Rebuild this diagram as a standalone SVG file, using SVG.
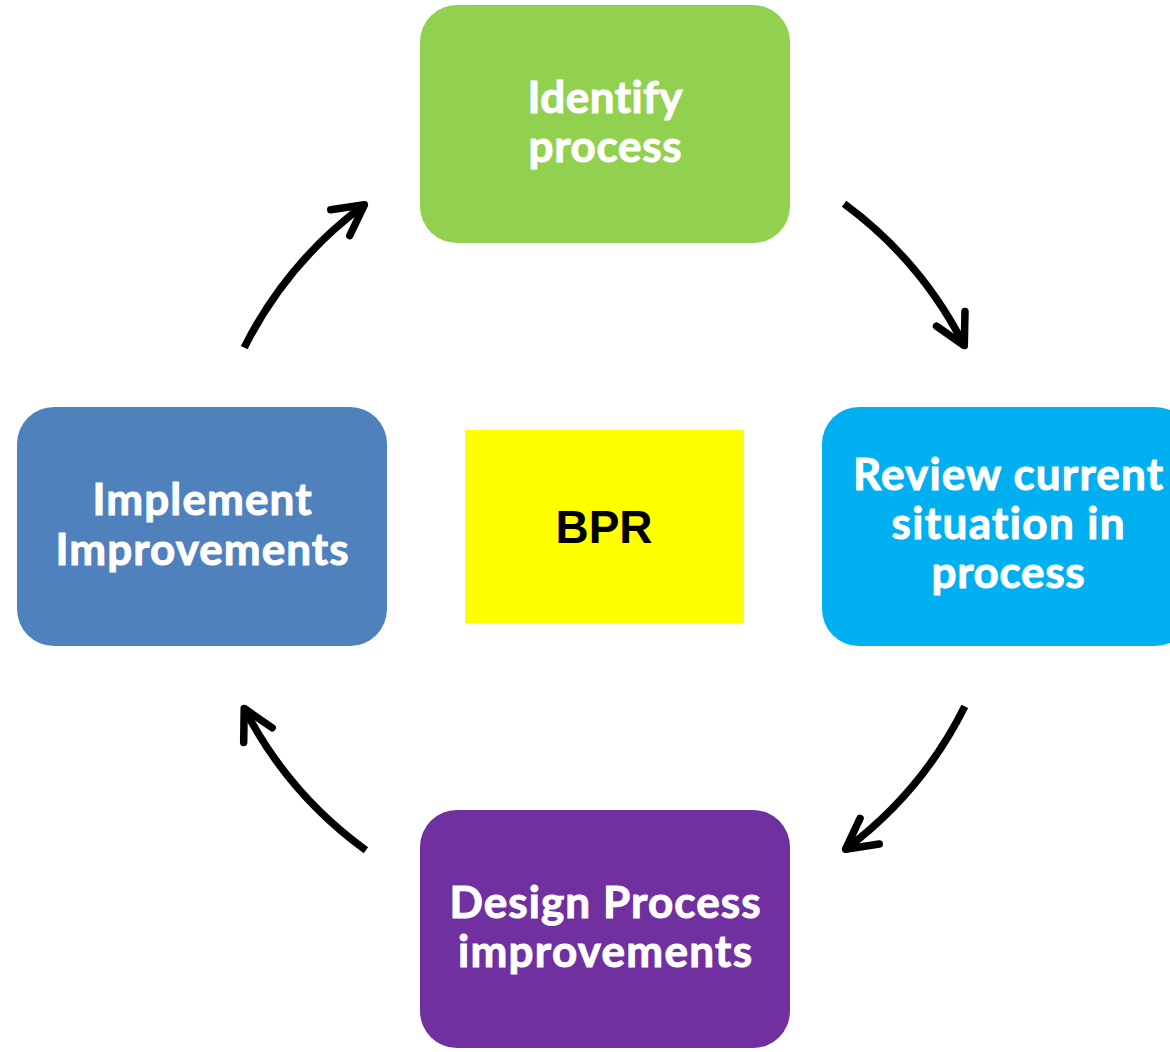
<svg xmlns="http://www.w3.org/2000/svg" width="1170" height="1052" viewBox="0 0 1170 1052">
  <style>
    .box { stroke: none; }
    .label { font-family: Lato, "Open Sans", "Liberation Sans", sans-serif; font-weight: 700; font-size: 44px; fill: #ffffff; stroke: #ffffff; stroke-width: 1; text-anchor: middle; font-variant-ligatures: none; font-feature-settings: "liga" 0, "clig" 0; }
    .center { font-family: "Liberation Sans", Arial, sans-serif; font-weight: 700; font-size: 46px; fill: #000000; text-anchor: middle; }
    .flow { fill: none; stroke: #000000; stroke-width: 7.5; stroke-linecap: butt; }
  </style>
  <defs>
    <!-- open chevron head, tip at the end of the path -->
    <marker id="chevron" markerUnits="userSpaceOnUse" viewBox="-40 -22 46 44" markerWidth="46" markerHeight="44" refX="0" refY="0" orient="auto">
      <polyline points="-30,-16 0,0 -30,16" fill="none" stroke="#000000" stroke-width="7.5" stroke-linecap="round" stroke-linejoin="round"/>
    </marker>
  </defs>

  <rect width="1170" height="1052" fill="#ffffff"/>

  <g id="node-identify">
    <rect class="box" x="420" y="5" width="370" height="238" rx="37" ry="37" fill="#92D050"/>
    <text class="label" x="605" y="113" textLength="155" lengthAdjust="spacing">Identify</text>
    <text class="label" x="605" y="162" textLength="153" lengthAdjust="spacing">process</text>
  </g>

  <g id="node-review">
    <rect class="box" x="822" y="407" width="370" height="239" rx="37" ry="37" fill="#00B0F0"/>
    <text class="label" x="1008" y="490" textLength="310" lengthAdjust="spacing">Review current</text>
    <text class="label" x="1008" y="539" textLength="233" lengthAdjust="spacing">situation in</text>
    <text class="label" x="1008" y="588" textLength="153" lengthAdjust="spacing">process</text>
  </g>

  <g id="node-design">
    <rect class="box" x="420" y="810" width="370" height="238" rx="37" ry="37" fill="#7030A0"/>
    <text class="label" x="605" y="918" textLength="311" lengthAdjust="spacing">Design Process</text>
    <text class="label" x="605" y="967" textLength="294" lengthAdjust="spacing">improvements</text>
  </g>

  <g id="node-implement">
    <rect class="box" x="17" y="407" width="370" height="239" rx="37" ry="37" fill="#4F81BD"/>
    <text class="label" x="202" y="515" textLength="219" lengthAdjust="spacing">Implement</text>
    <text class="label" x="202" y="565" textLength="293" lengthAdjust="spacing">Improvements</text>
  </g>

  <g id="node-bpr">
    <rect x="465" y="430" width="279" height="193" fill="#FFFF00"/>
    <text class="center" x="604" y="543">BPR</text>
  </g>

  <!-- clockwise arcs on one circle around the centre box -->
  <g id="connectors">
    <path class="flow" d="M 844.1 203.8 A 402 402 0 0 1 964.3 345.6" marker-end="url(#chevron)"/>
    <path class="flow" d="M 964.8 706.4 A 402 402 0 0 1 845.6 849.2" marker-end="url(#chevron)"/>
    <path class="flow" d="M 365.9 850.2 A 402 402 0 0 1 244.2 708.4" marker-end="url(#chevron)"/>
    <path class="flow" d="M 244.2 347.6 A 402 402 0 0 1 364.4 204.8" marker-end="url(#chevron)"/>
  </g>
</svg>
